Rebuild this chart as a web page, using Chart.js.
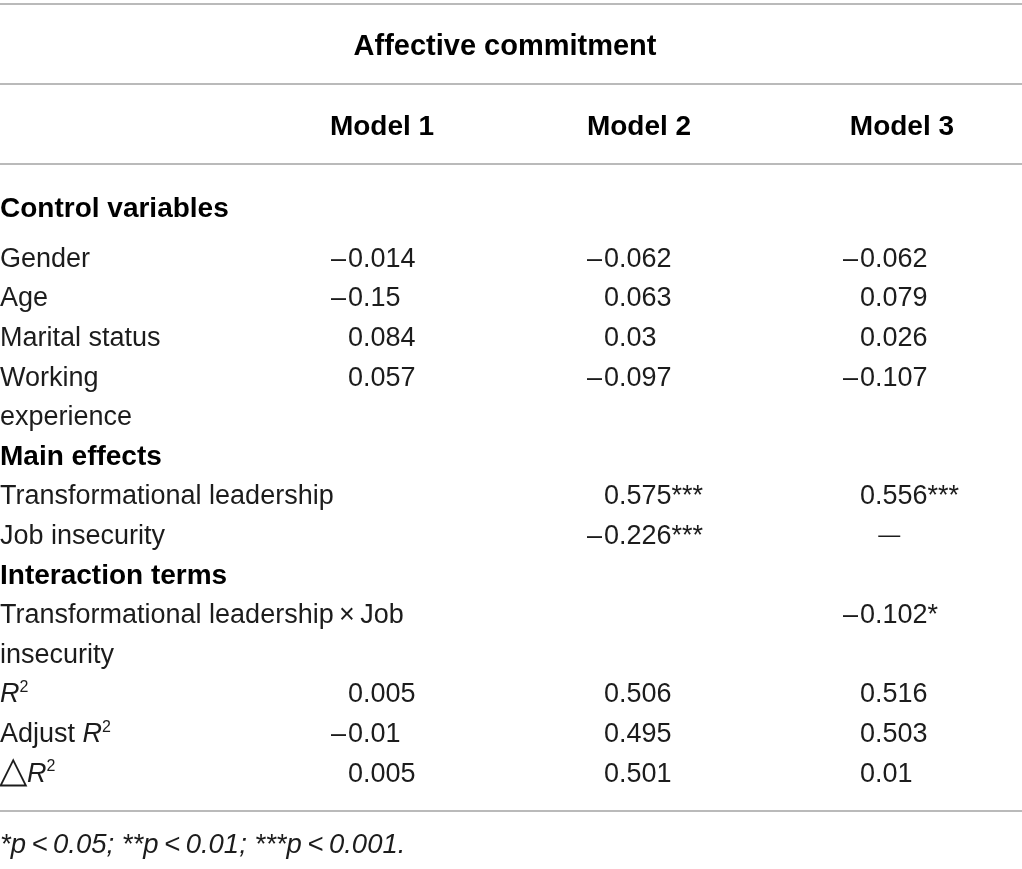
<!DOCTYPE html>
<html><head><meta charset="utf-8">
<script src="https://cdn.jsdelivr.net/npm/chart.js@4.4.1/dist/chart.umd.min.js"></script>
<style>html,body{margin:0;padding:0;background:#fff}#wrap{width:1022px;height:869px;position:relative}</style>
</head><body><div id="wrap"><canvas id="c"></canvas></div>
<script>
// ---------- DATA ----------
const tableTitle = 'Affective commitment';
const modelNames = ['Model 1', 'Model 2', 'Model 3'];
const rowLabels = ['Control variables', 'Gender', 'Age', 'Marital status', 'Working', 'experience',
  'Main effects', 'Transformational leadership', 'Job insecurity', 'Interaction terms',
  'Transformational leadership\u2009×\u2009Job', 'insecurity',
  '<i>R</i><sup>2</sup>', 'Adjust <i>R</i><sup>2</sup>', '<big>△</big><i>R</i><sup>2</sup>'];
const sectionRows = [0, 6, 9];
const model1Values = [null, -0.014, -0.15, 0.084, 0.057, null, null, null, null, null, null, null, 0.005, -0.01, 0.005];
const model2Values = [null, -0.062, 0.063, 0.03, -0.097, null, null, 0.575, -0.226, null, null, null, 0.506, 0.495, 0.501];
const model3Values = [null, -0.062, 0.079, 0.026, -0.107, null, null, 0.556, '—', null, -0.102, null, 0.516, 0.503, 0.01];
const model1Stars = ['', '', '', '', '', '', '', '', '', '', '', '', '', '', ''];
const model2Stars = ['', '', '', '', '', '', '', '***', '***', '', '', '', '', '', ''];
const model3Stars = ['', '', '', '', '', '', '', '***', '', '', '*', '', '', '', ''];
const footnote = '<i>*p\u2009<\u20090.05; **p\u2009<\u20090.01; ***p\u2009<\u20090.001.</i>';

// ---------- LAYOUT (scale units) ----------
const X_MIN = -0.2852, X_MAX = 3.707;      // column units
const Y_MIN = -6.49, Y_MAX = 15.454;       // row units
const digitOffset = 0.074;                 // digits start after minus slot
const headerOffset = [0.207, 0.211, 0.238];
const dashOffset = 0.188;
const titleX = 1.6875;
const titleRow = -5.354, headerRow = -3.333, firstSectionRow = -1.263, footRow = 14.798;
const ruleRows = [-6.389, -4.369, -2.348, 13.99];
const yOf = i => i === 0 ? firstSectionRow : i - 1;

const FONT = '"Liberation Sans", Arial, Helvetica, sans-serif';
const TXT = '#1c1c1c', BOLD = '#000', RULE = '#a3a3a3';
const REG = 27, BSZ = 28;

const modelValues = [model1Values, model2Values, model3Values];
const modelStars = [model1Stars, model2Stars, model3Stars];

function segs(str){const out=[];const re=/<i>(.*?)<\/i>|<sup>(.*?)<\/sup>|<big>(.*?)<\/big>|([^<]+)/g;let m;
  while((m=re.exec(str))){
    if(m[1]!==undefined)out.push({t:m[1],i:true});
    else if(m[2]!==undefined)out.push({t:m[2],sup:true});
    else if(m[3]!==undefined)out.push({t:m[3],big:true});
    else out.push({t:m[4]});}
  return out;}
function fontFor(s,size,bold){const sz=s.sup?Math.round(size*0.6):(s.big?Math.round(size*1.38):size);
  return `${s.i?'italic ':''}${bold?'bold ':''}${sz}px ${FONT}`;}
function drawRich(ctx,str,x,yc,size,bold,align,color){
  const ss=segs(str);let w=0;
  ss.forEach(s=>{ctx.font=fontFor(s,size,bold);s.w=ctx.measureText(s.t).width;w+=s.w;});
  let cx=align==='center'?x-w/2:(align==='right'?x-w:x);
  const base=yc+size*0.36;
  ctx.fillStyle=color;ctx.textBaseline='alphabetic';ctx.textAlign='left';
  ss.forEach(s=>{ctx.font=fontFor(s,size,bold);
    const by=s.sup?base-size*0.38:(s.big?base+size*0.02:base);
    ctx.fillText(s.t,s.big?cx-1:cx,by);cx+=s.big?s.w-1:s.w;});
}

// ---------- DATASETS ----------
const datasets = [];
ruleRows.forEach(r => datasets.push({kind:'rule', data:[{x:X_MIN,y:r},{x:X_MAX,y:r}], showLine:true,
  borderColor:RULE, borderWidth:1.6, pointRadius:0, clip:false}));
datasets.push({kind:'title', data:[{x:titleX,y:titleRow,t:tableTitle}], pointRadius:0});
datasets.push({kind:'header', data:modelNames.map((n,m)=>({x:m+1+headerOffset[m],y:headerRow,t:n})), pointRadius:0});
datasets.push({kind:'label', data:rowLabels.map((l,i)=>({x:X_MIN,y:yOf(i),t:l,sec:sectionRows.includes(i)})), pointRadius:0});
modelValues.forEach((vals,m)=>{
  const pts=[];
  vals.forEach((v,i)=>{ if(v===null) return;
    if(typeof v==='string') pts.push({x:m+1+dashOffset,y:yOf(i),t:v,dash:true});
    else pts.push({x:m+1+digitOffset,y:yOf(i),t:String(Math.abs(v))+modelStars[m][i],neg:v<0});
  });
  datasets.push({kind:'value', data:pts, pointRadius:0});
});
datasets.push({kind:'foot', data:[{x:X_MIN,y:footRow,t:footnote}], pointRadius:0});

const textPlugin = {
  id:'tableText',
  afterDatasetsDraw(chart){
    const ctx=chart.ctx; ctx.save();
    chart.data.datasets.forEach((ds,di)=>{
      if(ds.kind==='rule') return;
      const meta=chart.getDatasetMeta(di);
      meta.data.forEach((el,j)=>{
        const p=ds.data[j], x=el.x, y=el.y;
        if(ds.kind==='title') drawRich(ctx,p.t,x,y,29,true,'center',BOLD);
        else if(ds.kind==='header') drawRich(ctx,p.t,x,y,BSZ,true,'center',BOLD);
        else if(ds.kind==='label') drawRich(ctx,p.t,x,y,p.sec?BSZ:REG,p.sec,'left',p.sec?BOLD:TXT);
        else if(ds.kind==='foot') drawRich(ctx,p.t,x,y,27.5,false,'left',TXT);
        else if(ds.kind==='value'){
          if(p.dash) drawRich(ctx,p.t,x,y,22,false,'center',TXT);
          else {
            drawRich(ctx,p.t,x,y,REG,false,'left',TXT);
            if(p.neg) drawRich(ctx,'\u2013',x-2,y,REG,false,'right',TXT);
          }
        }
      });
    });
    ctx.restore();
  }
};

new Chart(document.getElementById('c'), {
  type:'scatter',
  data:{datasets},
  options:{
    responsive:true, maintainAspectRatio:false, animation:false, events:[],
    layout:{padding:0},
    plugins:{legend:{display:false}, tooltip:{enabled:false}},
    scales:{
      x:{type:'linear', min:X_MIN, max:X_MAX, display:false},
      y:{type:'linear', min:Y_MIN, max:Y_MAX, reverse:true, display:false}
    }
  },
  plugins:[textPlugin]
});
</script></body></html>
